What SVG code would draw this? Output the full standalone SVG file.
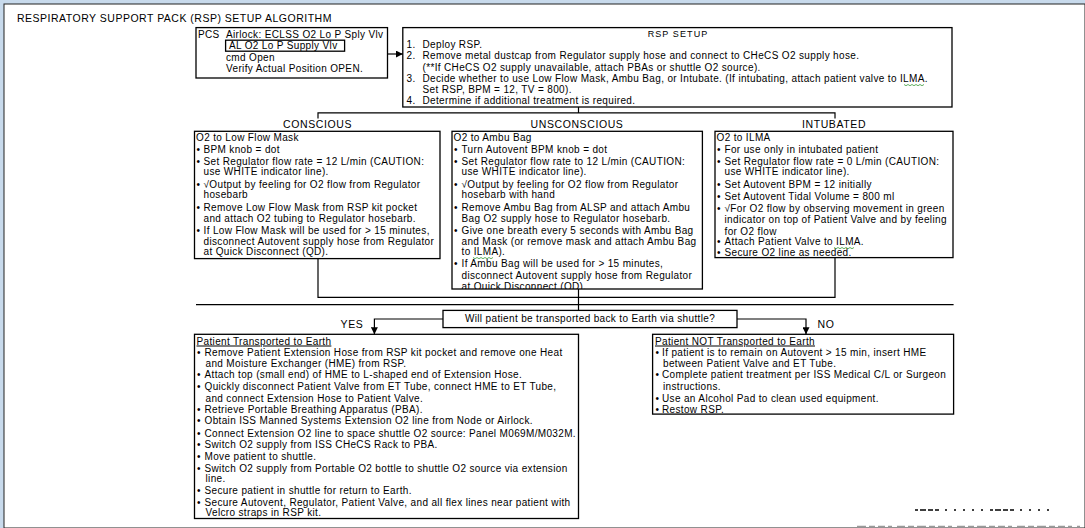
<svg xmlns="http://www.w3.org/2000/svg" width="1085" height="528" viewBox="0 0 1085 528">
<style>
.t{font-family:"Liberation Sans",Arial,sans-serif;font-size:10px;letter-spacing:0.35px;fill:#000}
.ttl{font-family:"Liberation Sans",Arial,sans-serif;font-size:10.5px;letter-spacing:0.5px;fill:#000}
.lbl{font-family:"Liberation Sans",Arial,sans-serif;font-size:10.5px;letter-spacing:0.6px;fill:#000}
.hd{font-family:"Liberation Sans",Arial,sans-serif;font-size:9px;letter-spacing:1.1px;fill:#000}
.u{text-decoration:underline}
.box{fill:#fff;stroke:#000;stroke-width:1.3}
.ln{fill:none;stroke:#000;stroke-width:1.2}
.sq{fill:none;stroke:#3a9a3a;stroke-width:0.8}
</style>
<defs>
<marker id="ah" viewBox="0 0 10 10" refX="10" refY="5" markerWidth="7" markerHeight="7" markerUnits="userSpaceOnUse" orient="auto"><path d="M0,0 L10,5 L0,10 z" fill="#000"/></marker>
<clipPath id="cu"><rect x="452" y="131.3" width="250.4" height="157.7"/></clipPath>
</defs>
<rect x="0" y="0" width="1085" height="528" fill="#c8daec"/>
<rect x="4" y="4" width="1081" height="524" fill="#fff" stroke="#222" stroke-width="1"/>

<text class="ttl" x="17" y="22">RESPIRATORY SUPPORT PACK (RSP) SETUP ALGORITHM</text>

<g id="pcs">
<rect class="box" x="196" y="27.6" width="191.5" height="50.4"/>
<rect class="box" x="225.6" y="40.2" width="119" height="11"/>
<text class="t" x="198" y="38">PCS</text>
<text class="t" x="226" y="38">Airlock: ECLSS O2 Lo P Sply Vlv</text>
<text class="t" x="229" y="49.3">AL O2 Lo P Supply Vlv</text>
<text class="t" x="226" y="60.5">cmd Open</text>
<text class="t" x="226" y="72">Verify Actual Position OPEN.</text>
</g>

<g id="rsp-setup">
<rect class="box" x="402.8" y="27.6" width="549.2" height="79.4"/>
<text class="hd" x="678" y="37.2" text-anchor="middle">RSP SETUP</text>
<text class="t" x="406.5" y="48.3">1.</text>
<text class="t" x="422.5" y="48.3">Deploy RSP.</text>
<text class="t" x="406.5" y="59.1">2.</text>
<text class="t" x="422.5" y="59.1">Remove metal dustcap from Regulator supply hose and connect to CHeCS O2 supply hose.</text>
<text class="t" x="422.5" y="70.8">(**If CHeCS O2 supply unavailable, attach PBAs or shuttle O2 source).</text>
<text class="t" x="406.5" y="82">3.</text>
<text class="t" x="422.5" y="82">Decide whether to use Low Flow Mask, Ambu Bag, or Intubate.  (If intubating, attach patient valve to ILMA.</text>
<text class="t" x="422.5" y="92.7">Set RSP, BPM = 12, TV = 800).</text>
<text class="t" x="406.5" y="103.8">4.</text>
<text class="t" x="422.5" y="103.8">Determine if additional treatment is required.</text>
</g>

<g id="conscious">
<text class="lbl" x="317.5" y="128.3" text-anchor="middle">CONSCIOUS</text>
<rect class="box" x="194.5" y="131.3" width="245.5" height="127.3"/>
<text class="t" x="196" y="140.5">O2 to Low Flow Mask</text>
<text class="t" x="196.5" y="153.3">•</text><text class="t" x="203.5" y="153.3">BPM knob = dot</text>
<text class="t" x="196.5" y="164.5">•</text><text class="t" x="203.5" y="164.5">Set Regulator flow rate = 12 L/min (CAUTION:</text>
<text class="t" x="203.5" y="175.2">use WHITE indicator line).</text>
<text class="t" x="196.5" y="188">•</text><text class="t" x="203.5" y="188">√Output by feeling for O2 flow from Regulator</text>
<text class="t" x="203.5" y="198.1">hosebarb</text>
<text class="t" x="196.5" y="210.5">•</text><text class="t" x="203.5" y="210.5">Remove Low Flow Mask from RSP kit pocket</text>
<text class="t" x="203.5" y="222.4">and attach O2 tubing to Regulator hosebarb.</text>
<text class="t" x="196.5" y="234.1">•</text><text class="t" x="203.5" y="234.1">If Low Flow Mask will be used for &gt; 15 minutes,</text>
<text class="t" x="203.5" y="244.9">disconnect Autovent supply hose from Regulator</text>
<text class="t" x="203.5" y="255.4">at Quick Disconnect (QD).</text>
</g>

<g id="unconscious">
<text class="lbl" x="577" y="128.3" text-anchor="middle">UNSCONSCIOUS</text>
<rect class="box" x="452" y="131.3" width="250.4" height="157.7"/>
<g clip-path="url(#cu)">
<text class="t" x="453.5" y="140.5">O2 to Ambu Bag</text>
<text class="t" x="454" y="153.3">•</text><text class="t" x="461.5" y="153.3">Turn Autovent BPM knob = dot</text>
<text class="t" x="454" y="164.5">•</text><text class="t" x="461.5" y="164.5">Set Regulator flow rate to 12 L/min (CAUTION:</text>
<text class="t" x="461.5" y="175.2">use WHITE indicator line).</text>
<text class="t" x="454" y="188">•</text><text class="t" x="461.5" y="188">√Output by feeling for O2 flow from Regulator</text>
<text class="t" x="461.5" y="198.1">hosebarb with hand</text>
<text class="t" x="454" y="210.5">•</text><text class="t" x="461.5" y="210.5">Remove Ambu Bag from ALSP and attach Ambu</text>
<text class="t" x="461.5" y="222.4">Bag O2 supply hose to Regulator hosebarb.</text>
<text class="t" x="454" y="234.1">•</text><text class="t" x="461.5" y="234.1">Give one breath every 5 seconds with Ambu Bag</text>
<text class="t" x="461.5" y="244.9">and Mask (or remove mask and attach Ambu Bag</text>
<text class="t" x="461.5" y="255.3">to ILMA).</text>
<text class="t" x="454" y="267.1">•</text><text class="t" x="461.5" y="267.1">If Ambu Bag will be used for &gt; 15 minutes,</text>
<text class="t" x="461.5" y="278.9">disconnect Autovent supply hose from Regulator</text>
<text class="t" x="461.5" y="290">at Quick Disconnect (QD).</text>
</g>
</g>

<g id="intubated">
<text class="lbl" x="834" y="128.3" text-anchor="middle">INTUBATED</text>
<rect class="box" x="715" y="131.3" width="238" height="126.3"/>
<text class="t" x="716.5" y="140.5">O2 to ILMA</text>
<text class="t" x="717" y="153.3">•</text><text class="t" x="724.5" y="153.3">For use only in intubated patient</text>
<text class="t" x="717" y="164.5">•</text><text class="t" x="724.5" y="164.5">Set Regulator flow rate = 0 L/min (CAUTION:</text>
<text class="t" x="724.5" y="175.2">use WHITE indicator line).</text>
<text class="t" x="717" y="188">•</text><text class="t" x="724.5" y="188">Set Autovent BPM = 12 initially</text>
<text class="t" x="717" y="199.8">•</text><text class="t" x="724.5" y="199.8">Set Autovent Tidal Volume = 800 ml</text>
<text class="t" x="717" y="212.3">•</text><text class="t" x="724.5" y="212.3">√For O2 flow by observing movement in green</text>
<text class="t" x="724.5" y="223">indicator on top of Patient Valve and by feeling</text>
<text class="t" x="724.5" y="234.5">for O2 flow</text>
<text class="t" x="717" y="245.3">•</text><text class="t" x="724.5" y="245.3">Attach Patient Valve to ILMA.</text>
<text class="t" x="717" y="256.3">•</text><text class="t" x="724.5" y="256.3">Secure O2 line as needed.</text>
</g>

<g id="question">
<rect class="box" x="443" y="310.4" width="294" height="17.2"/>
<text class="t" x="590" y="321.8" text-anchor="middle">Will patient be transported back to Earth via shuttle?</text>
</g>

<g id="yes-box">
<rect class="box" x="194.5" y="334.3" width="384" height="184.2"/>
<text class="t u" x="196.5" y="344.5">Patient Transported to Earth</text>
<text class="t" x="197" y="356">•</text><text class="t" x="204.5" y="356">Remove Patient Extension Hose from RSP kit pocket and remove one Heat</text>
<text class="t" x="205.5" y="366.8">and Moisture Exchanger (HME) from RSP.</text>
<text class="t" x="197" y="378.2">•</text><text class="t" x="204.5" y="378.2">Attach top (small end) of HME to L-shaped end of Extension Hose.</text>
<text class="t" x="197" y="390.4">•</text><text class="t" x="204.5" y="390.4">Quickly disconnect Patient Valve from ET Tube, connect HME to ET Tube,</text>
<text class="t" x="205.5" y="401.8">and connect Extension Hose to Patient Valve.</text>
<text class="t" x="197" y="412.9">•</text><text class="t" x="204.5" y="412.9">Retrieve Portable Breathing Apparatus (PBA).</text>
<text class="t" x="197" y="424.4">•</text><text class="t" x="204.5" y="424.4">Obtain ISS Manned Systems Extension O2 line from Node or Airlock.</text>
<text class="t" x="197" y="436.5">•</text><text class="t" x="204.5" y="436.5">Connect Extension O2 line to space shuttle O2 source: Panel M069M/M032M.</text>
<text class="t" x="197" y="447.9">•</text><text class="t" x="204.5" y="447.9">Switch O2 supply from ISS CHeCS Rack to PBA.</text>
<text class="t" x="197" y="460.1">•</text><text class="t" x="204.5" y="460.1">Move patient to shuttle.</text>
<text class="t" x="197" y="471.5">•</text><text class="t" x="204.5" y="471.5">Switch O2 supply from Portable O2 bottle to shuttle O2 source via extension</text>
<text class="t" x="205.5" y="482.3">line.</text>
<text class="t" x="197" y="494.1">•</text><text class="t" x="204.5" y="494.1">Secure patient in shuttle for return to Earth.</text>
<text class="t" x="197" y="505.9">•</text><text class="t" x="204.5" y="505.9">Secure Autovent, Regulator, Patient Valve, and all flex lines near patient with</text>
<text class="t" x="205.5" y="516.3">Velcro straps in RSP kit.</text>
</g>

<g id="no-box">
<rect class="box" x="652.6" y="334.3" width="301" height="79.8"/>
<text class="t u" x="655" y="344.5">Patient NOT Transported to Earth</text>
<text class="t" x="655.5" y="356">•</text><text class="t" x="662" y="356">If patient is to remain on Autovent &gt; 15 min, insert HME</text>
<text class="t" x="663" y="366.8">between Patient Valve and ET Tube.</text>
<text class="t" x="655.5" y="378.2">•</text><text class="t" x="662" y="378.2">Complete patient treatment per ISS Medical C/L or Surgeon</text>
<text class="t" x="663" y="389.7">instructions.</text>
<text class="t" x="655.5" y="401.8">•</text><text class="t" x="662" y="401.8">Use an Alcohol Pad to clean used equipment.</text>
<text class="t" x="655.5" y="412.5">•</text><text class="t" x="662" y="412.5">Restow RSP.</text>
</g>

<g id="connectors">
<path class="ln" d="M387.5,54 H402.8" marker-end="url(#ah)"/>
<path class="ln" d="M578.5,107 V112.8 M318,118.5 V112.8 H835 V118.5"/>
<path class="ln" d="M318,258.6 V297.3 H835 V257.6 M578.5,289 V310.4"/>
<path class="ln" d="M196,304.7 H953.6"/>
<path class="ln" d="M443,319 H374.4 V334.3" marker-end="url(#ah)"/>
<path class="ln" d="M737,319 H806 V334.3" marker-end="url(#ah)"/>
<text class="lbl" x="352" y="327.5" text-anchor="middle">YES</text>
<text class="lbl" x="826" y="327.5" text-anchor="middle">NO</text>
</g>

<g id="marks">
<path class="sq" d="M904,84.5 l2,1.2 l2,-1.2 l2,1.2 l2,-1.2 l2,1.2 l2,-1.2 l2,1.2 l2,-1.2 l2,1.2 l2,-1.2"/>
<path class="sq" d="M473,257.5 l2,1.2 l2,-1.2 l2,1.2 l2,-1.2 l2,1.2 l2,-1.2 l2,1.2 l2,-1.2 l2,1.2 l2,-1.2"/>
<path class="sq" d="M834,247.5 l2,1.2 l2,-1.2 l2,1.2 l2,-1.2 l2,1.2 l2,-1.2 l2,1.2 l2,-1.2 l2,1.2 l2,-1.2"/>
<path d="M915,510 H1052" stroke="#000" stroke-width="1.5" stroke-dasharray="3 2 6 2 5 2 4 6 2 7 2 7 2 7 2 7 2 7"/>
<path d="M857,526.5 H1080" stroke="#999" stroke-width="1.5" stroke-dasharray="9 3 6 3 7 3 4 5 8 3 6 3"/>
</g>
</svg>
